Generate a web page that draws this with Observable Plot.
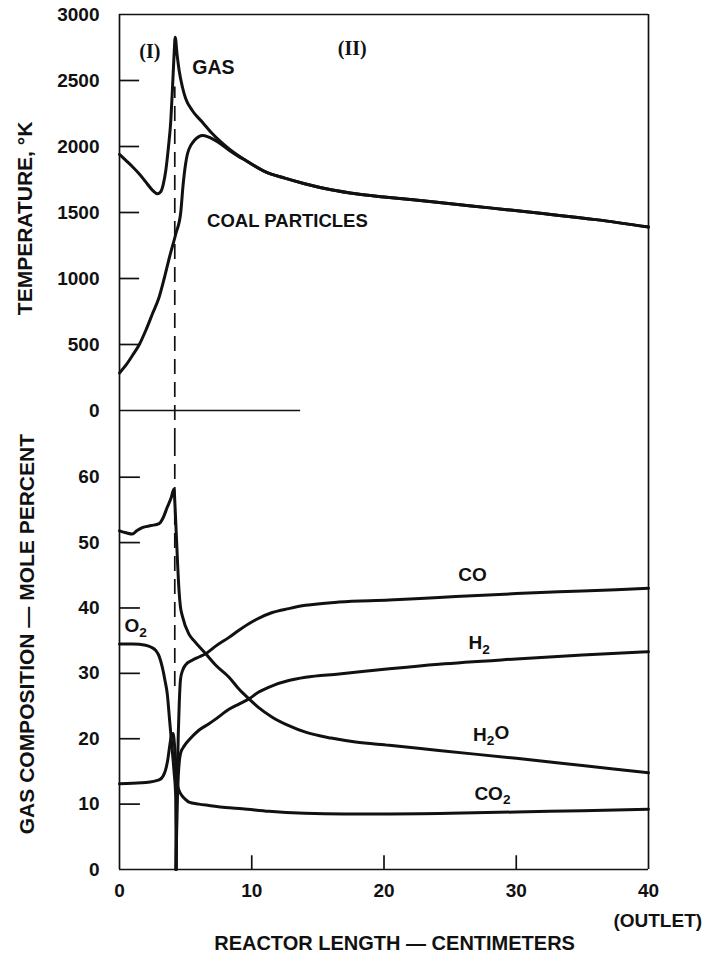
<!DOCTYPE html>
<html>
<head>
<meta charset="utf-8">
<script src="https://cdn.jsdelivr.net/npm/d3@7"></script>
<script src="https://cdn.jsdelivr.net/npm/@observablehq/plot@0.6"></script>
<style>
html, body { margin: 0; padding: 0; background: #fff; }
#chart { width: 707px; height: 955px; position: relative; background: #fff; }
#chart svg { display: block; }
</style>
</head>
<body>
<div id="chart"></div>
<script>
// ---------- DATA ----------
// Temperature panel (deg K) vs reactor length (cm)
const tempGasX  = [0,0.5,1,1.5,2,2.5,2.87,3.1,3.3,3.5,3.7,3.88,4.01,4.13,4.21,4.35,4.51,4.76,5.01,5.5,6.27,7.03,8.29,9.55,11,12.5,14,16,18,20,24,28,32,36,40];
const tempGasK  = [1940,1893,1845,1792,1730,1668,1642,1655,1710,1818,1995,2197,2449,2702,2828,2700,2576,2449,2361,2273,2184,2096,1982,1894,1810,1760,1718,1672,1640,1618,1578,1535,1492,1446,1390];
const tempCoalX = [0,0.5,1,1.5,2,2.5,3,3.38,3.8,4.26,4.63,4.8,5.0,5.14,5.4,5.65,6.0,6.27,6.7,7.03,7.5,8.29,9,9.55,11,12.5,14,16,18,20,24,28,32,36,40];
const tempCoalK = [285,345,420,500,610,735,860,1000,1170,1339,1500,1700,1870,1945,2010,2045,2075,2083,2073,2058,2030,1972,1925,1894,1810,1760,1718,1672,1640,1618,1578,1535,1492,1446,1390];

// Gas composition panel (mole percent)
const h2oX   = [0,0.5,0.97,1.3,1.72,2.4,2.99,3.3,3.61,3.9,4.12,4.2,4.3,4.4,4.5,4.6,4.75,5.25,5.63,6.52,7.3,8.28,9.03,9.79,10.5,11.55,12.8,14.07,16,17.85,20.4,24.15,30,35,40];
const h2oPct = [51.8,51.5,51.3,51.8,52.3,52.6,52.9,53.8,55.4,56.8,58.2,55.5,51.0,46.5,42.7,40.3,38.8,36.0,35.0,33.0,31.2,29.4,27.6,26.1,24.8,23.3,22.0,21.0,20.1,19.5,19.0,18.2,17.0,15.9,14.8];
const o2X    = [0,1,1.98,2.4,2.74,3.0,3.24,3.45,3.61,3.79,3.99,4.12,4.25,4.29];
const o2Pct  = [34.5,34.5,34.3,34.0,33.5,32.6,30.9,28.8,26.9,22.8,18.2,15.1,11.1,0];
const co2X   = [0,1,1.98,2.99,3.3,3.48,3.65,3.79,3.92,4.05,4.18,4.3,4.42,4.62,5.0,5.25,6.0,6.77,8,9.28,11.3,14,17,20,25,30,35,40];
const co2Pct = [13.1,13.2,13.3,13.7,14.3,15.2,16.8,18.8,20.4,20.8,18.5,14.8,12.6,11.6,10.7,10.3,10.0,9.8,9.5,9.3,8.9,8.6,8.5,8.5,8.6,8.8,9.0,9.2];
const coX    = [4.27,4.35,4.45,4.52,4.62,4.8,5.0,5.5,6.0,6.52,7.3,8.28,9.03,10.3,11.55,12.8,14.07,16.6,20.4,24.15,30,35,40];
const coPct  = [0,12,21,25.5,29.2,30.6,31.3,32.0,32.5,33.0,34.2,35.5,36.6,38.2,39.3,39.9,40.4,40.9,41.2,41.6,42.2,42.6,43.0];
const h2X    = [4.27,4.35,4.45,4.55,4.62,4.8,5.0,5.25,6.0,6.77,7.27,8.28,9.03,9.79,10.5,11.55,12.8,14.07,16.6,20.4,24.15,30,35,40];
const h2Pct  = [0,9,14.5,17.0,17.8,18.6,19.2,19.8,21.3,22.3,23.0,24.5,25.3,26.1,27.1,28.1,28.9,29.4,29.9,30.7,31.4,32.2,32.8,33.3];

// Ticks / labels
const tempTicks   = [0,500,1000,1500,2000,2500,3000];
const gasTicks    = [0,10,20,30,40,50,60];
const lengthTicks = [0,10,20,30,40];
const zoneBoundary = [4.18];   // dashed line between zone (I) and zone (II)

// ---------- BUILD ----------
const FONT = '"Liberation Sans", Arial, Helvetica, sans-serif';
const SERIF = '"Liberation Serif", "DejaVu Serif", serif';
const INK = "#111";
const zip = (xs, ys) => xs.map((x, i) => ({x, y: ys[i]}));

const gasTemp  = zip(tempGasX, tempGasK);
const coalTemp = zip(tempCoalX, tempCoalK);
const series = [
  zip(h2oX, h2oPct), zip(o2X, o2Pct), zip(co2X, co2Pct), zip(coX, coPct), zip(h2X, h2Pct)
];

const baseStyle = {fontFamily: FONT, fontSize: "19px", fontWeight: "bold", background: "#fff", color: INK, overflow: "visible"};
const lineOpts = {x: "x", y: "y", curve: "monotone-x", stroke: INK, strokeWidth: 3, strokeLinejoin: "round"};
const frameW = 1.7;
const dash = "15,8";

const topPlot = Plot.plot({
  width: 707, height: 443,
  marginLeft: 119, marginRight: 59, marginTop: 14, marginBottom: 33,
  x: {domain: [0, 40], axis: null},
  y: {domain: [0, 3000]},
  style: baseStyle,
  marks: [
    Plot.axisY(tempTicks, {tickSize: 0, tickPadding: 20, label: null, fontSize: 19, fontWeight: "bold", tickFormat: d => String(d)}),
    Plot.ruleX([0, 40], {y1: -250, y2: 3000, stroke: INK, strokeWidth: frameW}),
    Plot.ruleY([3000], {x1: 0, x2: 40, stroke: INK, strokeWidth: frameW}),
    Plot.ruleY([0], {x1: 0, x2: 13.7, stroke: INK, strokeWidth: frameW}),
    Plot.ruleY(tempTicks.filter(t => t > 0 && t < 3000), {x1: 0, x2: 1.52, stroke: INK, strokeWidth: frameW}),
    Plot.ruleX(zoneBoundary, {y1: -250, y2: 2450, stroke: INK, strokeWidth: 1.7, strokeDasharray: dash}),
    Plot.line(coalTemp, lineOpts),
    Plot.line(gasTemp, lineOpts),
    Plot.text(["TEMPERATURE, °K"], {text: d => d, x: -7.1, y: 1455, rotate: -90, fontSize: 21, fontWeight: "bold", fill: INK}),
    Plot.text(["(I)"], {text: d => d, x: 2.3, y: 2720, fontSize: 20, fontWeight: "bold", fontFamily: SERIF, fill: INK}),
    Plot.text(["(II)"], {text: d => d, x: 17.6, y: 2742, fontSize: 20, fontWeight: "bold", fontFamily: SERIF, fill: INK}),
    Plot.text(["GAS"], {text: d => d, x: 7.1, y: 2600, fontSize: 19.5, fontWeight: "bold", fill: INK}),
    Plot.text(["COAL PARTICLES"], {text: d => d, x: 12.7, y: 1436, fontSize: 18.5, fontWeight: "bold", fill: INK})
  ]
});

const bottomPlot = Plot.plot({
  width: 707, height: 512,
  marginLeft: 119, marginRight: 59, marginTop: 33.7, marginBottom: 86,
  x: {domain: [0, 40]},
  y: {domain: [0, 60]},
  style: baseStyle,
  marks: [
    Plot.axisY(gasTicks, {tickSize: 0, tickPadding: 20, label: null, fontSize: 19, fontWeight: "bold"}),
    Plot.axisX(lengthTicks, {tickSize: 0, tickPadding: 14, label: null, fontSize: 19, fontWeight: "bold"}),
    Plot.ruleX([0, 40], {y1: 0, y2: 65.15, stroke: INK, strokeWidth: frameW}),
    Plot.ruleY([0], {x1: 0, x2: 40, stroke: INK, strokeWidth: frameW}),
    Plot.ruleY(gasTicks.filter(t => t > 0), {x1: 0, x2: 1.58, stroke: INK, strokeWidth: frameW}),
    Plot.ruleX(lengthTicks.filter(t => t > 0 && t < 40), {y1: 0, y2: 2.1, stroke: INK, strokeWidth: frameW}),
    Plot.ruleX(zoneBoundary, {y1: 28, y2: 65.15, stroke: INK, strokeWidth: 1.7, strokeDasharray: dash}),
    ...series.map(s => Plot.line(s, lineOpts)),
    Plot.text(["GAS COMPOSITION — MOLE PERCENT"], {text: d => d, x: -7.0, y: 36.0, rotate: -90, fontSize: 21, fontWeight: "bold", fill: INK}),
    Plot.text(["O₂"], {text: d => d, x: 1.22, y: 37.2, fontSize: 19, fontWeight: "bold", fill: INK}),
    Plot.text(["CO"], {text: d => d, x: 26.7, y: 45.1, fontSize: 19, fontWeight: "bold", fill: INK}),
    Plot.text(["H₂"], {text: d => d, x: 27.2, y: 34.6, fontSize: 19, fontWeight: "bold", fill: INK}),
    Plot.text(["H₂O"], {text: d => d, x: 28.1, y: 20.6, fontSize: 19, fontWeight: "bold", fill: INK}),
    Plot.text(["CO₂"], {text: d => d, x: 28.2, y: 11.6, fontSize: 19, fontWeight: "bold", fill: INK}),
    Plot.text(["(OUTLET)"], {text: d => d, x: 40.7, y: -7.8, fontSize: 19, fontWeight: "bold", fill: INK}),
    Plot.text(["REACTOR LENGTH — CENTIMETERS"], {text: d => d, x: 20.8, y: -11.3, fontSize: 20, fontWeight: "bold", fill: INK})
  ]
});

// Turn the unicode subscript into a real lowered, smaller "2"
function subscripts(svg) {
  svg.querySelectorAll("text").forEach(t => {
    const s = t.textContent;
    if (!s.includes("₂") || t.children.length) return;
    const parts = s.split("₂");
    t.textContent = "";
    const ns = "http://www.w3.org/2000/svg";
    parts.forEach((p, i) => {
      if (p) {
        const a = document.createElementNS(ns, "tspan");
        if (i > 0) a.setAttribute("dy", "-0.32em");
        a.textContent = p;
        t.appendChild(a);
      }
      if (i < parts.length - 1) {
        const b = document.createElementNS(ns, "tspan");
        b.setAttribute("dy", "0.32em");
        b.setAttribute("font-size", "0.72em");
        b.textContent = "2";
        t.appendChild(b);
      }
    });
  });
}
subscripts(bottomPlot);

const chart = document.getElementById("chart");
chart.appendChild(topPlot);
chart.appendChild(bottomPlot);
</script>
</body>
</html>
